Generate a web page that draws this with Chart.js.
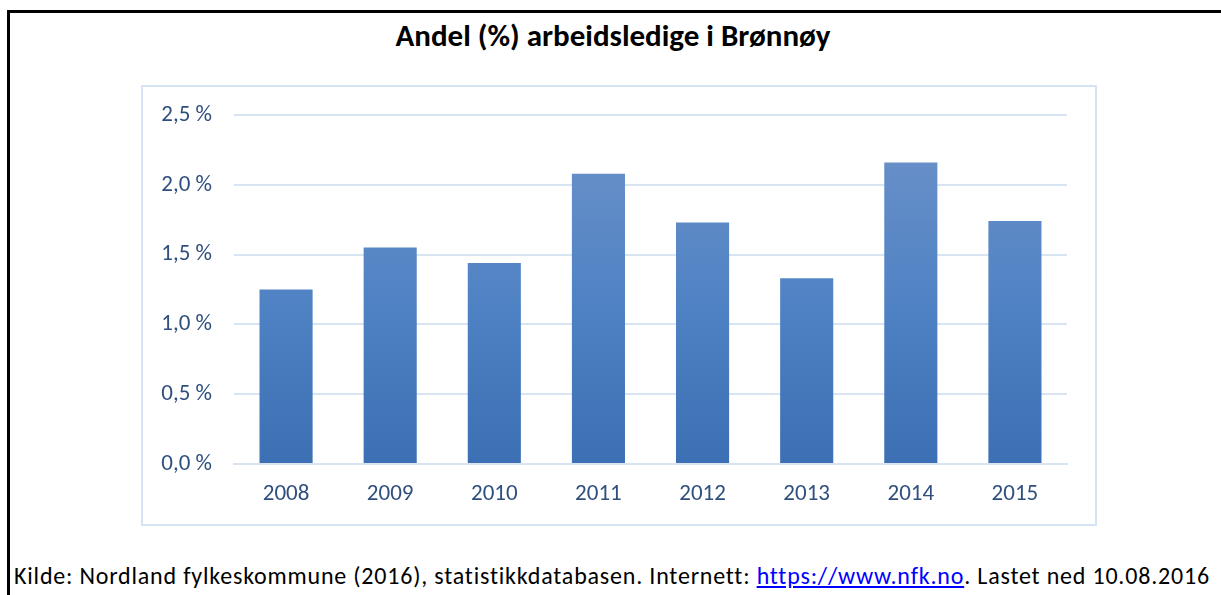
<!DOCTYPE html>
<html>
<head>
<meta charset="utf-8">
<script src="https://cdn.jsdelivr.net/npm/chart.js@4"></script>
<style>
    body { margin: 0; background: #fff; width: 1221px; height: 595px; overflow: hidden; position: relative; font-family: Carlito, Lato, "Open Sans", sans-serif; }
    #frame { position: absolute; left: 7px; top: 10px; width: 1230px; height: 600px; border-left: 3px solid #000; border-top: 3px solid #000; }
    #title { position: absolute; left: 0; width: 1226px; top: 16px; text-align: center; font-weight: bold; font-size: 31px; color: #000; }
    #box { position: absolute; left: 141px; top: 85px; width: 952px; height: 437px; border: 2px solid #d6e3f4; }
    #source { position: absolute; left: 14px; top: 561px; font-size: 24px; letter-spacing: 0.8px; color: #000; white-space: nowrap; }
    #source a { color: #0000ff; }
</style>
</head>
<body>
<div id="frame"></div>
<div id="title">Andel (%) arbeidsledige i Brønnøy</div>
<div id="box"><canvas id="chartLedige" width="952" height="437"></canvas></div>
<div id="source">Kilde: Nordland fylkeskommune (2016), statistikkdatabasen. Internett: <a href="#">https://www.nfk.no</a>. Lastet ned 10.08.2016</div>
<script>
const years = ["2008", "2009", "2010", "2011", "2012", "2013", "2014", "2015"];
const andel = [1.25, 1.55, 1.44, 2.08, 1.73, 1.33, 2.16, 1.74];
const yTicks = [0, 0.5, 1.0, 1.5, 2.0, 2.5];

const tickColor = "#2f4f7f";
const gridColor = "#d9e4f3";

function barGradient(context) {
    const { chart } = context;
    const area = chart.chartArea;
    if (!area) return "#4f80c2";
    const g = chart.ctx.createLinearGradient(0, area.top, 0, area.bottom);
    g.addColorStop(0, "#6e93c9");
    g.addColorStop(0.55, "#4f82c4");
    g.addColorStop(1, "#3c6fb3");
    return g;
}

new Chart(document.getElementById("chartLedige"), {
    type: "bar",
    data: {
        labels: years,
        datasets: [
            {
                label: "Andel arbeidsledige",
                data: andel,
                backgroundColor: barGradient,
                categoryPercentage: 1,
                barPercentage: 0.51
            }
        ]
    },
    options: {
        responsive: false,
        animation: false,
        layout: { padding: { top: 28, right: 28, left: 0, bottom: 0 } },
        plugins: {
            legend: { display: false },
            tooltip: { enabled: false }
        },
        scales: {
            x: {
                grid: { display: false, drawTicks: false },
                border: { display: true, color: gridColor, width: 2 },
                ticks: { color: tickColor, font: { family: "Carlito, Lato, sans-serif", size: 23 }, padding: 16 },
                afterFit: s => { s.height = 60; }
            },
            y: {
                min: 0,
                max: 2.5,
                afterBuildTicks: s => { s.ticks = yTicks.map(v => ({ value: v })); },
                grid: { color: gridColor, lineWidth: 2, drawTicks: false },
                border: { display: false },
                ticks: {
                    color: tickColor,
                    font: { family: "Carlito, Lato, sans-serif", size: 23 },
                    padding: 22,
                    callback: v => v.toFixed(1).replace(".", ",") + " %"
                },
                afterFit: s => {
                    s.width = 91;
                    s.paddingTop = 0;
                    s.paddingBottom = 0;
                }
            }
        }
    }
});
</script>
</body>
</html>
